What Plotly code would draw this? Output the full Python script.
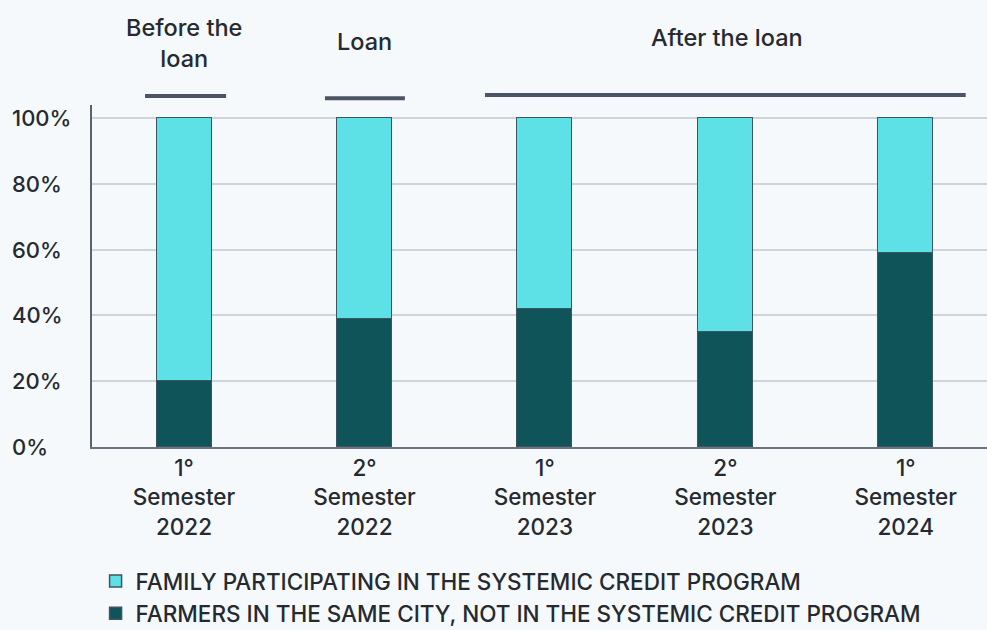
import plotly.graph_objects as go

categories = ["1°<br>Semester<br>2022", "2°<br>Semester<br>2022", "1°<br>Semester<br>2023",
              "2°<br>Semester<br>2023", "1°<br>Semester<br>2024"]
farmers_not_in_program = [20, 39, 42, 35, 59]
family_in_program = [100 - v for v in farmers_not_in_program]
ytick_vals = [0, 20, 40, 60, 80, 100]
ytick_labels = ["0%", "20%", "40%", "60%", "80%", "100%"]

phase_labels = ["Before the<br>loan", "Loan", "After the loan"]
phase_centers = [0, 1, 3.01]

FONT = "Inter, Lato, sans-serif"
TXT = "#262a30"
BG = "#f5f9fc"
x_idx = list(range(len(categories)))

fig = go.Figure()
fig.add_trace(go.Bar(
    x=x_idx, y=farmers_not_in_program,
    name="FARMERS IN THE SAME CITY, NOT IN THE SYSTEMIC CREDIT PROGRAM",
    marker=dict(color="#0e5459", line=dict(color="#3b5563", width=1.5)),
    width=0.305,
))
fig.add_trace(go.Bar(
    x=x_idx, y=family_in_program,
    name="FAMILY PARTICIPATING IN THE SYSTEMIC CREDIT PROGRAM",
    marker=dict(color="#5de1e6", line=dict(color="#3b5563", width=1.5)),
    width=0.305,
))

annotations = []
for v, t in zip(ytick_vals, ytick_labels):
    annotations.append(dict(x=-0.092, xref="paper", y=v, yref="y", text=t,
                            showarrow=False, xanchor="left", yanchor="middle",
                            font=dict(family=FONT, size=22, color=TXT, weight=500)))
phase_y = [1.181, 1.187, 1.196]
for c, t, yy in zip(phase_centers, phase_labels, phase_y):
    annotations.append(dict(x=c, xref="x", y=yy, yref="paper", text=t,
                            showarrow=False, xanchor="center", yanchor="middle",
                            font=dict(family=FONT, size=23.5, color=TXT, weight=500)))

shapes = []
for x0, x1, yy in [(-0.216, 0.233, 1.026), (0.781, 1.224, 1.020), (1.668, 4.332, 1.029)]:
    shapes.append(dict(type="line", xref="x", yref="paper", x0=x0, x1=x1, y0=yy, y1=yy,
                       line=dict(color="#4b5563", width=4)))

fig.update_layout(
    barmode="stack",
    width=987, height=630,
    margin=dict(l=92, r=0, t=105, b=183, autoexpand=False),
    paper_bgcolor=BG, plot_bgcolor=BG,
    font=dict(family=FONT, size=22, color=TXT),
    showlegend=True,
    legend=dict(orientation="v", traceorder="reversed", x=0.004, xanchor="left",
                y=-0.33, yanchor="top", bgcolor="rgba(0,0,0,0)",
                font=dict(family=FONT, size=22.5, color=TXT, weight=500), itemclick=False),
    annotations=annotations,
    shapes=shapes,
    bargap=0,
)
fig.update_xaxes(range=[-0.51, 4.45], tickmode="array", tickvals=x_idx, ticktext=categories,
                 showline=True, linecolor="#6b7280", linewidth=2, showgrid=False,
                 ticks="", tickfont=dict(family=FONT, size=22.5, color=TXT, weight=500),
                 zeroline=False, automargin=False)
fig.update_yaxes(range=[0, 104], tickmode="array", tickvals=ytick_vals, showticklabels=False,
                 showgrid=True, gridcolor="#cfd3da", gridwidth=1.5, automargin=False,
                 showline=True, linecolor="#5a6270", linewidth=2, zeroline=False, ticks="")

fig.write_html("out.html")
